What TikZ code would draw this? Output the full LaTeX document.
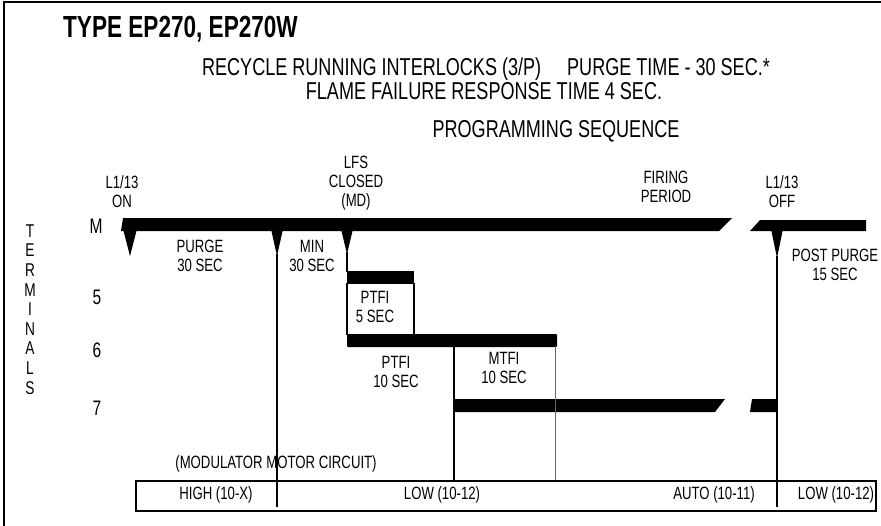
\documentclass[tikz,border=0pt]{standalone}
\usepackage{fontspec}
\setmainfont{Liberation Sans}[FakeStretch=0.74]
\begin{document}
\begin{tikzpicture}[x=1pt,y=-1pt,
  lbl/.style={font=\fontsize{17.8}{19}\selectfont, align=center, inner sep=0pt},
  hdr/.style={font=\fontsize{24.4}{24}\selectfont, inner sep=0pt},
  row/.style={font=\fontsize{21}{21}\selectfont, inner sep=0pt},
  bar/.style={fill=black, draw=none},
  vl/.style={line width=1.3pt},
  thinvl/.style={line width=0.8pt, black!60}]
\useasboundingbox (0,0) rectangle (881,525);
% frame
\draw[line width=1.6pt] (4,530) -- (4,2) -- (890,2);
% title and headers
\node[font=\bfseries\fontsize{30.5}{30}\selectfont, inner sep=0pt, anchor=base west] (title) at (63,37) {TYPE EP270, EP270W};
\node[hdr] (h1) at (486,69) {RECYCLE RUNNING INTERLOCKS (3/P)\hspace{26pt}PURGE TIME - 30 SEC.*};
\node[hdr] (h2) at (484,91) {FLAME FAILURE RESPONSE TIME 4 SEC.};
\node[hdr] (h3) at (556,131) {PROGRAMMING SEQUENCE};
% TERMINALS
\foreach \ch [count=\i from 0] in {T,E,R,M,I,N,A,L,S}
  \node[font=\fontsize{18.5}{18}\selectfont, inner sep=0pt] (term\i) at (30,231+19.6*\i) {\ch};
% row labels
\node[row] (rM) at (96,226) {M};
\node[row] (r5) at (97,297) {5};
\node[row] (r6) at (97,350) {6};
\node[row] (r7) at (97,408) {7};
% event labels
\node[lbl] (on) at (122,192) {L1/13\\ON};
\node[lbl] (lfs) at (356,183) {LFS\\CLOSED\\(MD)};
\node[lbl] (fire) at (666,187) {FIRING\\PERIOD};
\node[lbl] (off) at (782,192) {L1/13\\OFF};
\node[lbl] (purge) at (200,256) {PURGE\\30 SEC};
\node[lbl] (min) at (312,256) {MIN\\30 SEC};
\node[lbl] (post) at (835,265) {POST PURGE\\15 SEC};
\node[lbl] (ptfi5) at (375,307) {PTFI\\5 SEC};
\node[lbl] (ptfi10) at (396,372) {PTFI\\10 SEC};
\node[lbl] (mtfi) at (504,368) {MTFI\\10 SEC};
% M bar
\fill[bar] (121,231) -- (123,218) -- (732,218) -- (719,231) -- cycle;
\fill[bar] (750,231) -- (760,220) -- (866,220) -- (866,231) -- cycle;
% triangles
\fill[bar] (123,229) -- (137,229) -- (130,256) -- cycle;
\fill[bar] (271,229) -- (283,229) -- (277,256) -- cycle;
\fill[bar] (341,229) -- (353,229) -- (347,254) -- cycle;
\fill[bar] (771,229) -- (783,229) -- (777,258) -- cycle;
% terminal 5,6,7 bars
\fill[bar] (347,271) rectangle (414,284);
\fill[bar, rounded corners=1pt] (347,334) rectangle (557,347);
\fill[bar] (454,399) -- (725,399) -- (715,412) -- (454,412) -- cycle;
\fill[bar] (752,399) -- (777,399) -- (777,412) -- (750,412) -- cycle;
% vertical lines
\draw[vl] (277,254) -- (277,507);
\draw[vl] (347,252) -- (347,272);
\draw[vl] (347,283) -- (347,335);
\draw[vl] (414,283) -- (414,335);
\draw[vl] (454,346) -- (454,482);
\draw[thinvl] (555,346) -- (555,482);
\draw[vl] (777,256) -- (777,507);
% modulator table
\node[lbl] (mod) at (276,464) {(MODULATOR MOTOR CIRCUIT)};
\draw[line width=1.3pt] (136,481) rectangle (876,511);
\node[lbl] (high) at (216,495) {HIGH (10-X)};
\node[lbl] (low1) at (442,495) {LOW (10-12)};
\node[lbl] (auto) at (714,495) {AUTO (10-11)};
\node[lbl] (low2) at (836,495) {LOW (10-12)};
\end{tikzpicture}
\end{document}
